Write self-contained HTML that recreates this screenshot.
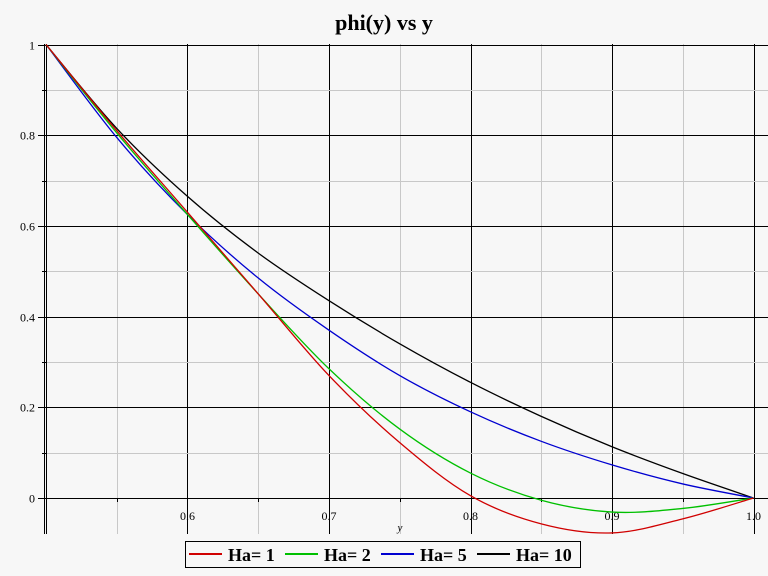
<!DOCTYPE html>
<html><head><meta charset="utf-8"><style>
html,body{margin:0;padding:0;background:#f7f7f7;}
svg{display:block;}
text{font-family:"Liberation Serif",serif;}
</style></head><body>
<svg id="s" width="768" height="576" xmlns="http://www.w3.org/2000/svg">
<rect width="768" height="576" fill="#f7f7f7"/>
<text x="384" y="30" text-anchor="middle" font-size="22" font-weight="bold">phi(y) vs y</text>
<g id="grid"></g>
<g id="curves" fill="none" stroke-width="1.3"></g>
<rect x="185.5" y="541.5" width="395" height="26" fill="none" stroke="#000" stroke-width="1"/>
<g stroke-width="2">
<line x1="189" y1="554" x2="222" y2="554" stroke="#d00000"/>
<line x1="285" y1="554" x2="318" y2="554" stroke="#00c000"/>
<line x1="381" y1="554" x2="414" y2="554" stroke="#0000d0"/>
<line x1="477" y1="554" x2="510" y2="554" stroke="#000"/>
</g>
<g font-size="18" font-weight="bold">
<text x="228" y="561">Ha= 1</text>
<text x="324" y="561">Ha= 2</text>
<text x="420" y="561">Ha= 5</text>
<text x="516" y="561">Ha= 10</text>
</g>
</svg>
<script>
var NS="http://www.w3.org/2000/svg";
function X(x){return 46+(x-0.5)*1415;}
function Y(p){return 498-p*453.5;}
function el(t,a,p){var e=document.createElementNS(NS,t);for(var k in a)e.setAttribute(k,a[k]);p.appendChild(e);return e;}
var g=document.getElementById('grid');
var T=534;
for(var i=1;i<=10;i++){var x=0.5+i*0.05;var px=Math.round(X(x))+0.5;var maj=(i%2==0);
el('line',{x1:px,y1:44,x2:px,y2:T,stroke:maj?'#000':'#c8c8c8','stroke-width':1},g);}
for(var j=0;j<=10;j++){var p=j*0.1;var py=Math.round(Y(p))+0.5;var maj=(j%2==0);
el('line',{x1:46,y1:py,x2:768,y2:py,stroke:maj?'#000':'#c8c8c8','stroke-width':1},g);
el('line',{x1:maj?38:42,y1:py,x2:46,y2:py,stroke:'#000'},g);
if(maj){var t=el('text',{x:35,y:py+4,'text-anchor':'end','font-size':12},g);t.textContent=(j==0?'0':(j==10?'1':p.toFixed(1)));}}
el('line',{x1:44.5,y1:44,x2:44.5,y2:T,stroke:'#000'},g);
el('line',{x1:46.5,y1:44,x2:46.5,y2:T,stroke:'#000'},g);
for(var i=1;i<=10;i++){var px=Math.round(X(0.5+i*0.05))+0.5;el('line',{x1:px,y1:498,x2:px,y2:i%2?502:504,stroke:'#000'},g);}
var labs=['0.6','0.7','0.8','0.9','1.0'];
for(var i=0;i<5;i++){var t=el('text',{x:X(0.6+i*0.1),y:520,'text-anchor':'middle','font-size':12},g);t.textContent=labs[i];}
var t=el('text',{x:400,y:531,'text-anchor':'middle','font-size':11,'font-style':'italic'},g);t.textContent='y';
var xs=[0.5,0.55,0.6,0.65,0.7,0.75,0.8,0.85,0.9,0.95,1];
var data=[
['#000',[1,0.815,0.665,0.54,0.435,0.34,0.255,0.18,0.113,0.054,0]],
['#0000d0',[1,0.795,0.625,0.485,0.37,0.27,0.19,0.125,0.073,0.031,0]],
['#00c000',[1,0.805,0.625,0.45,0.285,0.152,0.055,-0.005,-0.031,-0.023,0]],
['#d00000',[1,0.81,0.63,0.45,0.27,0.122,0.005,-0.057,-0.077,-0.046,0]]
];
var c=document.getElementById('curves');
data.forEach(function(d){var P=xs.map(function(x,i){return [X(x),Y(d[1][i])];});
var s='M'+P[0][0]+','+P[0][1];
for(var i=0;i<P.length-1;i++){var p0=P[Math.max(i-1,0)],p1=P[i],p2=P[i+1],p3=P[Math.min(i+2,P.length-1)];
s+=' C'+(p1[0]+(p2[0]-p0[0])/6)+','+(p1[1]+(p2[1]-p0[1])/6)+' '+(p2[0]-(p3[0]-p1[0])/6)+','+(p2[1]-(p3[1]-p1[1])/6)+' '+p2[0]+','+p2[1];}
el('path',{d:s,stroke:d[0]},c);});
</script>
</body></html>
